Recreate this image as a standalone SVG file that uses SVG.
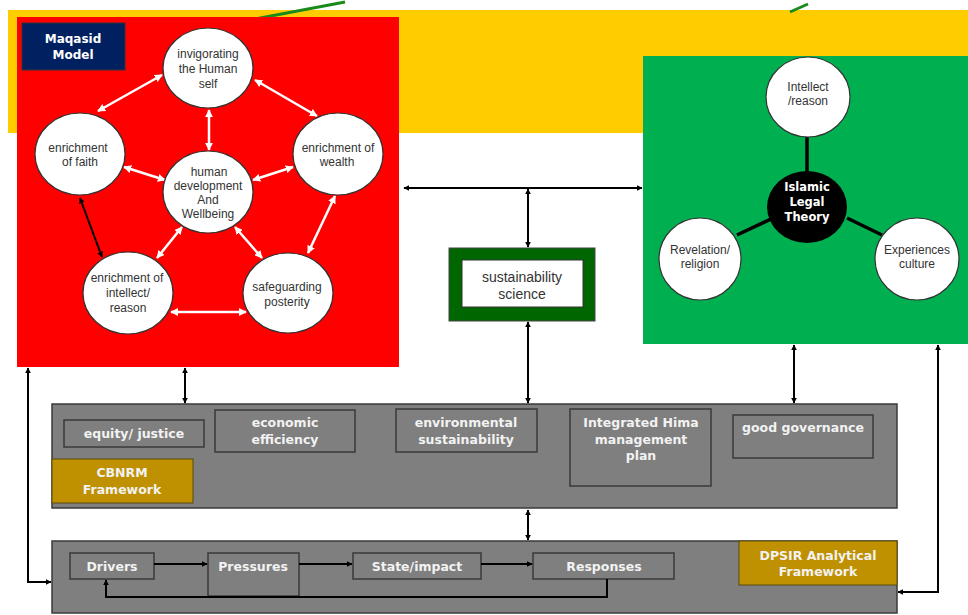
<svg xmlns="http://www.w3.org/2000/svg" width="968" height="615" viewBox="0 0 968 615">
<defs>
<marker id="ab" viewBox="0 0 10 10" refX="9" refY="5" markerWidth="6" markerHeight="6" orient="auto-start-reverse" markerUnits="userSpaceOnUse"><path d="M0,0 L10,5 L0,10 z" fill="#000"/></marker>
<marker id="aw" viewBox="0 0 10 10" refX="9" refY="5" markerWidth="8" markerHeight="8" orient="auto-start-reverse" markerUnits="userSpaceOnUse"><path d="M0,0 L10,5 L0,10 z" fill="#fff"/></marker>
<style>
.circ{fill:#fff;stroke:#333;stroke-width:1.2}
.ct{font-family:"Liberation Sans",Arial,sans-serif;font-size:12px;fill:#333;text-anchor:middle}
.gb{fill:#7f7f7f;stroke:#3a3a3a;stroke-width:1.5}
.gt{font-family:"DejaVu Sans",Verdana,sans-serif;font-weight:bold;font-size:12.5px;fill:#f2f2f2;text-anchor:middle}
.gold{fill:#bf9000;stroke:#5a4a10;stroke-width:1}
.wl{stroke:#fff;stroke-width:2.5;fill:none;marker-start:url(#aw);marker-end:url(#aw)}
.bl{stroke:#000;stroke-width:2;fill:none}
.bd{marker-start:url(#ab);marker-end:url(#ab)}
</style>
</defs>
<rect width="968" height="615" fill="#fff"/>
<rect x="8" y="10" width="960" height="123" fill="#ffcc00"/>
<line x1="255" y1="19" x2="345" y2="2" stroke="#1a8a1a" stroke-width="3"/>
<line x1="790" y1="12" x2="808" y2="4" stroke="#1a8a1a" stroke-width="3"/>

<g id="maqasid">
<rect x="17" y="17" width="382" height="350" fill="#ff0000"/>
<rect x="22" y="23" width="103" height="47" fill="#002060" stroke="#333" stroke-width="1"/>
<text class="gt" font-size="12px" x="73" y="43" style="font-size:12px;fill:#fff">Maqasid</text>
<text class="gt" x="73" y="59" style="font-size:12px;fill:#fff">Model</text>
</g>

<g id="connectors-white">
<line class="wl" x1="98" y1="111" x2="162" y2="75"/>
<line class="wl" x1="255" y1="80" x2="317" y2="116"/>
<line class="wl" x1="209" y1="110" x2="209" y2="150"/>
<line class="wl" x1="124" y1="167" x2="165" y2="180"/>
<line class="wl" x1="253" y1="180" x2="293" y2="167"/>
<line class="wl" x1="182" y1="227" x2="157" y2="258"/>
<line class="wl" x1="235" y1="227" x2="262" y2="258"/>
<line class="wl" x1="335" y1="196" x2="308" y2="253"/>
<line class="wl" x1="171" y1="312" x2="246" y2="312"/>
</g>

<g id="n-invig"><ellipse class="circ" cx="208" cy="68" rx="45" ry="40"/>
<text class="ct" x="208" y="58">invigorating</text><text class="ct" x="208" y="73">the Human</text><text class="ct" x="208" y="88">self</text></g>
<g id="n-faith"><ellipse class="circ" cx="80" cy="154" rx="45" ry="41"/>
<text class="ct" x="78" y="152">enrichment</text><text class="ct" x="80" y="166">of faith</text></g>
<g id="n-human"><ellipse class="circ" cx="208" cy="192" rx="45" ry="41"/>
<text class="ct" x="209" y="176">human</text><text class="ct" x="208" y="190">development</text><text class="ct" x="208" y="204">And</text><text class="ct" x="208" y="218">Wellbeing</text></g>
<g id="n-wealth"><ellipse class="circ" cx="338" cy="154" rx="45" ry="41"/>
<text class="ct" x="338" y="152">enrichment of</text><text class="ct" x="337" y="166">wealth</text></g>
<g id="n-intellect"><ellipse class="circ" cx="128" cy="293" rx="45" ry="41"/>
<text class="ct" x="127" y="282">enrichment of</text><text class="ct" x="128" y="297">intellect/</text><text class="ct" x="128" y="312">reason</text></g>
<g id="n-safe"><ellipse class="circ" cx="288" cy="293" rx="45" ry="40"/>
<text class="ct" x="287" y="291">safeguarding</text><text class="ct" x="287" y="306">posterity</text></g>

<g id="legal">
<rect x="643" y="56" width="325" height="288" fill="#00b050"/>
<g stroke="#000" stroke-width="3.5">
<line x1="807" y1="136" x2="807" y2="176"/>
<line x1="737" y1="235" x2="773" y2="218"/>
<line x1="847" y1="218" x2="882" y2="235"/>
</g>
</g>
<g id="n-int2"><ellipse class="circ" cx="808" cy="97" rx="42" ry="40"/>
<text class="ct" x="808" y="91">Intellect</text><text class="ct" x="808" y="105">/reason</text></g>
<g id="n-islamic"><ellipse cx="807" cy="207" rx="40" ry="36" fill="#000"/>
<text class="gt" x="807" y="191" style="font-size:11.5px;fill:#fff">Islamic</text><text class="gt" x="807" y="206" style="font-size:11.5px;fill:#fff">Legal</text><text class="gt" x="807" y="221" style="font-size:11.5px;fill:#fff">Theory</text></g>
<g id="n-rev"><ellipse class="circ" cx="700" cy="259" rx="41" ry="41"/>
<text class="ct" x="700" y="254">Revelation/</text><text class="ct" x="700" y="268">religion</text></g>
<g id="n-exp"><ellipse class="circ" cx="917" cy="259" rx="42" ry="41"/>
<text class="ct" x="917" y="254">Experiences</text><text class="ct" x="917" y="268">culture</text></g>

<g id="n-sust">
<rect x="449" y="248" width="146" height="73" fill="#006600" stroke="#444" stroke-width="1"/>
<rect x="462" y="260" width="121" height="47" fill="#fff" stroke="#333" stroke-width="1"/>
<text x="522" y="282" style="font-family:'Liberation Sans',Arial,sans-serif;font-size:14px;fill:#333;text-anchor:middle">sustainability</text>
<text x="522" y="299" style="font-family:'Liberation Sans',Arial,sans-serif;font-size:14px;fill:#333;text-anchor:middle">science</text>
</g>

<g id="cbnrm">
<rect class="gb" x="52" y="404" width="845" height="104"/>
<rect class="gb" x="64" y="420" width="140" height="27"/>
<text class="gt" x="134" y="438">equity/ justice</text>
<rect class="gb" x="215" y="410" width="140" height="42"/>
<text class="gt" x="285" y="427">economic</text><text class="gt" x="285" y="444">efficiency</text>
<rect class="gb" x="396" y="409" width="141" height="43"/>
<text class="gt" x="466" y="427">environmental</text><text class="gt" x="466" y="444">sustainability</text>
<rect class="gb" x="570" y="409" width="141" height="77"/>
<text class="gt" x="641" y="427">Integrated Hima</text><text class="gt" x="641" y="444">management</text><text class="gt" x="641" y="460">plan</text>
<rect class="gb" x="733" y="415" width="140" height="43"/>
<text class="gt" x="803" y="432">good governance</text>
<rect class="gold" x="52" y="459" width="141" height="44"/>
<text class="gt" x="122" y="477">CBNRM</text><text class="gt" x="122" y="494">Framework</text>
</g>

<g id="dpsir">
<rect class="gb" x="52" y="541" width="845" height="72"/>
<rect class="gold" x="739" y="541" width="158" height="44"/>
<text class="gt" x="818" y="560">DPSIR Analytical</text><text class="gt" x="818" y="576">Framework</text>
<rect class="gb" x="70" y="553" width="84" height="26"/>
<text class="gt" x="112" y="571">Drivers</text>
<rect class="gb" x="208" y="553" width="91" height="43"/>
<text class="gt" x="253" y="571">Pressures</text>
<rect class="gb" x="353" y="553" width="128" height="26"/>
<text class="gt" x="417" y="571">State/impact</text>
<rect class="gb" x="533" y="553" width="141" height="26"/>
<text class="gt" x="604" y="571">Responses</text>
</g>

<g id="connectors">
<line class="bl" x1="80" y1="198" x2="102" y2="257" style="marker-start:url(#ab);marker-end:url(#ab)"/>
<line class="bl bd" x1="404" y1="188" x2="642" y2="188"/>
<line class="bl bd" x1="528" y1="189" x2="528" y2="247"/>
<line class="bl bd" x1="528" y1="322" x2="528" y2="403"/>
<line class="bl bd" x1="185" y1="368" x2="185" y2="403"/>
<line class="bl bd" x1="794" y1="345" x2="794" y2="403"/>
<line class="bl bd" x1="528" y1="510" x2="528" y2="540"/>
<path class="bl bd" d="M28,368 V582 H51"/>
<path class="bl bd" d="M938,345 V592 H898"/>
<path class="bl" d="M154,564 H207" style="marker-end:url(#ab)"/>
<path class="bl" d="M299,564 H352" style="marker-end:url(#ab)"/>
<path class="bl" d="M481,564 H532" style="marker-end:url(#ab)"/>
<path class="bl" d="M607,579 V597 H106 V580" style="marker-end:url(#ab)"/>
</g>
</svg>
